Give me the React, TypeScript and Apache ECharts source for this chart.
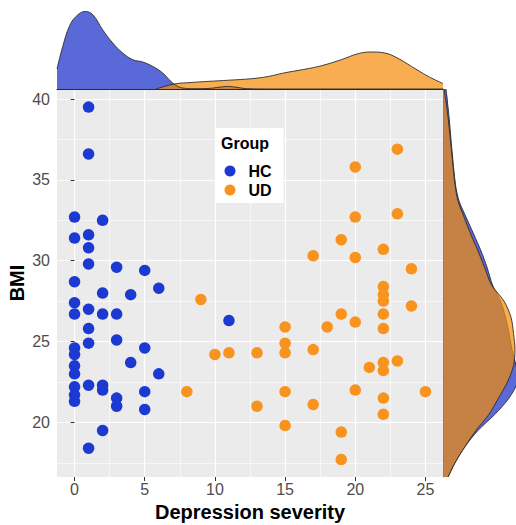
import React, { useEffect, useRef } from "react";
import * as echarts from "echarts";

// ---- tick labels ----
const xTicks = [0, 5, 10, 15, 20, 25];
const yTicks = [20, 25, 30, 35, 40];

// ---- scatter data: HC (healthy controls) ----
const hcSeverity = [1, 1, 0, 2, 0, 1, 1, 1, 3, 5, 0, 6, 2, 4, 0, 1, 0, 2, 3, 11, 1, 1, 3, 0, 0, 5, 4, 0, 0, 6, 1, 2, 2, 0, 0, 3, 3, 5, 5, 2, 1, 0];
const hcBMI = [39.5, 36.6, 32.7, 32.5, 31.4, 31.6, 30.8, 29.8, 29.6, 29.4, 28.7, 28.3, 28.0, 27.9, 27.4, 27.0, 26.7, 26.7, 26.7, 26.3, 25.8, 24.9, 25.1, 24.6, 24.2, 24.6, 23.7, 23.5, 23.0, 23.0, 22.3, 22.3, 22.0, 22.2, 21.7, 21.5, 21.0, 21.9, 20.8, 19.5, 18.4, 21.3];

// ---- scatter data: UD ----
const udSeverity = [8, 9, 10, 11, 13, 13, 15, 15, 15, 15, 15, 17, 17, 17, 18, 19, 19, 19, 19, 20, 20, 20, 20, 20, 21, 22, 22, 22, 22, 22, 22, 22, 22, 22, 22, 23, 23, 23, 24, 24, 25];
const udBMI = [21.9, 27.6, 24.2, 24.3, 24.3, 21.0, 25.9, 24.9, 24.3, 21.9, 19.8, 30.3, 24.5, 21.1, 25.9, 31.3, 26.7, 19.4, 17.7, 35.8, 32.7, 30.2, 26.2, 22.0, 23.4, 30.7, 28.4, 27.9, 27.5, 26.7, 25.8, 23.7, 23.2, 21.5, 20.5, 36.9, 32.9, 23.8, 29.5, 27.2, 21.9];

// ---- top marginal density (relative units) ----
const topX_HC = [-1.25, -0.84, -0.37, 0.11, 0.77, 1.3, 2.0, 2.72, 3.43, 4.15, 4.86, 5.57, 6.28, 6.87, 7.35, 7.8, 8.5, 9.5, 10.3, 10.9, 11.5, 12.3, 14, 26.25];
const topD_HC = [20, 42.6, 62.6, 72.6, 77.6, 74.3, 59.3, 46, 36, 29.3, 27, 22.6, 16, 7.6, 2.6, 0.8, 0.3, 0.5, 1.8, 2.6, 1.8, 0.3, 0, 0];
const topX_UD = [5.8, 7.1, 8.3, 9.5, 11, 12.6, 13.8, 14.9, 16.3, 17.6, 19.0, 20.2, 21.1, 22.1, 23.0, 24.0, 25.2, 26.25];
const topD_UD = [0, 5, 6.5, 7.6, 8.8, 10.3, 12.5, 16, 19.5, 23.3, 29.3, 35.3, 37, 36, 31, 22.6, 12.6, 5.5];

// ---- right marginal density (relative units) ----
const rightBMI = [40.62, 38.9, 36.8, 34.7, 33.7, 32.7, 31.6, 30.6, 29.6, 28.5, 27.5, 26.5, 25.5, 24.5, 23.5, 22.5, 21.5, 20.5, 19.5, 18.5, 17.5, 16.62];
const rightD_HC = [3, 6, 9, 12.5, 16, 23, 31, 38, 44, 49.5, 57.5, 62.5, 66, 69, 73, 74.5, 66, 52, 35, 22, 12, 5];
const rightD_UD = [1, 5, 8.5, 12, 15, 21, 28, 35, 41.5, 48.5, 61, 68, 70.5, 72, 70.5, 64.5, 55.5, 46, 33, 22, 12, 5];

const FONT = "Liberation Sans, Arial, sans-serif";
const HC_POINT = "#1c39d2";
const UD_POINT = "#f7931e";
const HC_FILL = "#1329c8";
const UD_FILL = "#f58b05";

const zip = (a: number[], b: number[]) => a.map((v, i) => [v, b[i]]);

function rightDensity(widths: number[], fill: string) {
  return (_params: any, api: any) => {
    const pts = rightBMI.map((b, i) => api.coord([widths[i], b]));
    const base = [
      api.coord([0, rightBMI[rightBMI.length - 1]]),
      api.coord([0, rightBMI[0]]),
    ];
    return {
      type: "group",
      children: [
        {
          type: "polygon",
          shape: { points: [...pts, ...base], smooth: 0.3 },
          style: { fill, opacity: 0.7 },
          silent: true,
        },
        {
          type: "polyline",
          shape: { points: pts, smooth: 0.3 },
          style: { stroke: "#2b2b2b", lineWidth: 0.9, fill: "none" },
          silent: true,
        },
      ],
    };
  };
}

export default function App() {
  const ref = useRef<HTMLDivElement>(null);

  useEffect(() => {
    document.body.style.margin = "0";
    if (!ref.current) return;
    const chart = echarts.init(ref.current, undefined, { renderer: "svg" });

    const tickLabel = { color: "#4d4d4d", fontSize: 16, fontFamily: FONT };

    chart.setOption({
      animation: false,
      grid: [
        { left: 57, right: 73, top: 89, bottom: 48, show: true, backgroundColor: "#EBEBEB", borderWidth: 0, borderColor: "transparent", containLabel: false, outerBoundsMode: "none" },
        { left: 57, right: 73, top: 0, height: 89, containLabel: false, outerBoundsMode: "none" },
        { left: 443, right: 0, top: 89, bottom: 48, containLabel: false, outerBoundsMode: "none" },
      ],
      xAxis: [
        {
          type: "value",
          gridIndex: 0,
          min: -1.25,
          max: 26.25,
          axisLine: { show: false },
          axisTick: { show: true, customValues: xTicks, length: 4, lineStyle: { color: "#333", width: 1 } },
          axisLabel: { customValues: xTicks, margin: 4, ...tickLabel },
          splitLine: { show: true, lineStyle: { color: "#ffffff", width: 1.2 } },
          minorTick: { show: false, splitNumber: 2 },
          minorSplitLine: { show: true, lineStyle: { color: "#ffffff", width: 0.6 } },
          name: "Depression severity",
          nameLocation: "middle",
          nameGap: 24,
          nameTextStyle: { fontSize: 20, fontWeight: "bold", color: "#000", fontFamily: FONT },
        },
        {
          type: "value",
          gridIndex: 1,
          min: -1.25,
          max: 26.25,
          axisLine: { show: true, lineStyle: { color: "#2b2b2b", width: 1 } },
          axisTick: { show: false },
          axisLabel: { show: false },
          splitLine: { show: false },
        },
        {
          type: "value",
          gridIndex: 2,
          min: 0,
          max: 73,
          show: false,
        },
      ],
      yAxis: [
        {
          type: "value",
          gridIndex: 0,
          min: 16.62,
          max: 40.62,
          axisLine: { show: false },
          axisTick: { show: true, customValues: yTicks, length: 4, lineStyle: { color: "#333", width: 1 } },
          axisLabel: { customValues: yTicks, margin: 7, ...tickLabel },
          splitLine: { show: true, lineStyle: { color: "#ffffff", width: 1.2 } },
          minorTick: { show: false, splitNumber: 2 },
          minorSplitLine: { show: true, lineStyle: { color: "#ffffff", width: 0.6 } },
          name: "BMI",
          nameLocation: "middle",
          nameRotate: 90,
          nameGap: 30,
          nameMoveOverlap: false,
          nameTextStyle: { fontSize: 20, fontWeight: "bold", color: "#000", fontFamily: FONT },
        },
        { type: "value", gridIndex: 1, min: 0, max: 89, show: false },
        {
          type: "value",
          gridIndex: 2,
          min: 16.62,
          max: 40.62,
          axisLine: { show: true, lineStyle: { color: "#555", width: 0.8 } },
          axisTick: { show: false },
          axisLabel: { show: false },
          splitLine: { show: false },
        },
      ],
      legend: {
        data: [
          { name: "HC", icon: "circle" },
          { name: "UD", icon: "circle" },
        ],
        orient: "vertical",
        left: 215,
        top: 128,
        itemWidth: 11,
        itemHeight: 11,
        itemGap: 1,
        padding: [34, 12, 4, 9.5],
        backgroundColor: "#ffffff",
        selectedMode: false,
        textStyle: { fontSize: 16, lineHeight: 18, fontWeight: "bold", color: "#000", fontFamily: FONT, padding: [0, 0, 0, 8] },
      },
      graphic: [
        {
          type: "text",
          left: 221,
          top: 135,
          z: 100,
          style: { text: "Group", font: `bold 16px ${FONT}`, fill: "#000" },
        },
      ],
      series: [
        {
          name: "HC",
          type: "scatter",
          xAxisIndex: 0,
          yAxisIndex: 0,
          data: zip(hcSeverity, hcBMI),
          symbolSize: 11.5,
          itemStyle: { color: HC_POINT, opacity: 1 },
        },
        {
          name: "UD",
          type: "scatter",
          xAxisIndex: 0,
          yAxisIndex: 0,
          data: zip(udSeverity, udBMI),
          symbolSize: 11.5,
          itemStyle: { color: UD_POINT, opacity: 1 },
        },
        {
          name: "HC density x",
          type: "line",
          xAxisIndex: 1,
          yAxisIndex: 1,
          data: zip(topX_HC, topD_HC),
          smooth: 0.4,
          showSymbol: false,
          clip: true,
          lineStyle: { color: "#2b2b2b", width: 0.9 },
          areaStyle: { color: HC_FILL, opacity: 0.7 },
        },
        {
          name: "UD density x",
          type: "line",
          xAxisIndex: 1,
          yAxisIndex: 1,
          data: zip(topX_UD, topD_UD),
          smooth: 0.4,
          showSymbol: false,
          clip: true,
          lineStyle: { color: "#2b2b2b", width: 0.9 },
          areaStyle: { color: UD_FILL, opacity: 0.7 },
        },
        {
          name: "HC density y",
          type: "custom",
          xAxisIndex: 2,
          yAxisIndex: 2,
          clip: true,
          data: [[0, 30]],
          renderItem: rightDensity(rightD_HC, HC_FILL),
        },
        {
          name: "UD density y",
          type: "custom",
          xAxisIndex: 2,
          yAxisIndex: 2,
          clip: true,
          data: [[0, 30]],
          renderItem: rightDensity(rightD_UD, UD_FILL),
        },
      ],
    });

    return () => chart.dispose();
  }, []);

  return <div ref={ref} style={{ width: 516, height: 525 }} />;
}
